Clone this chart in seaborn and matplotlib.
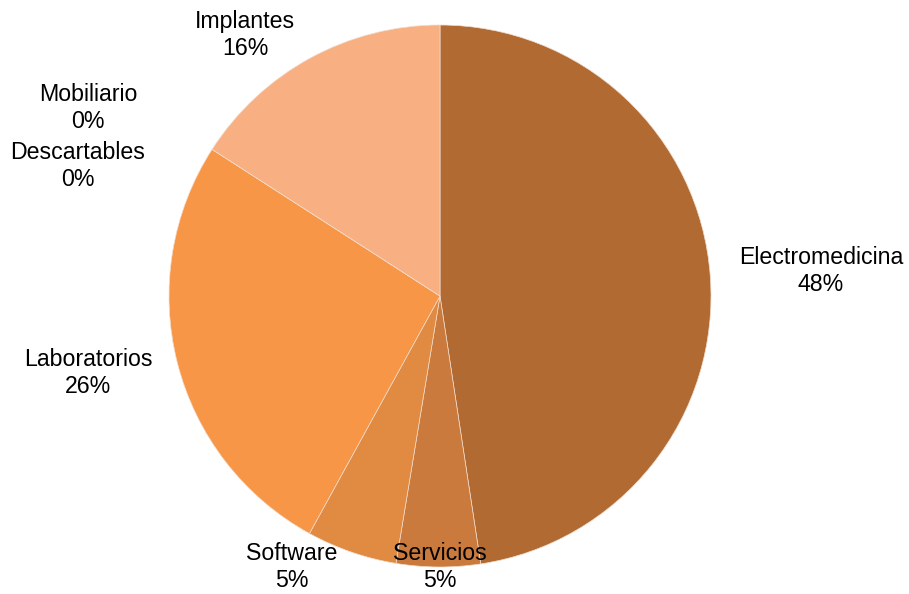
import matplotlib
matplotlib.use("Agg")
import matplotlib.pyplot as plt
import seaborn as sns

sns.set_style("white")
plt.rcParams["font.family"] = ["Liberation Sans", "DejaVu Sans"]

# Share of purchases by category (percent), clockwise from 12 o'clock
categories = ["Electromedicina", "Servicios", "Software", "Laboratorios",
              "Descartables", "Mobiliario", "Implantes"]
shares = [47.6, 5.0, 5.4, 26.1, 0.0, 0.0, 15.9]
colors = ["#B06A32", "#C97A3C", "#E08A42", "#F79646",
          "#F79646", "#F8AF82", "#F8AF82"]

# label anchor positions (pixels, from the top-left corner)
label_px = {
    "Electromedicina": (821, 271),
    "Servicios": (440, 567),
    "Software": (292, 567),
    "Laboratorios": (88, 373),
    "Descartables": (78, 166),
    "Mobiliario": (88, 108),
    "Implantes": (245, 35),
}

W, H = 909, 594
fig = plt.figure(figsize=(W / 100, H / 100), dpi=100)
cx, cy, r = 440, 296, 271
ax = fig.add_axes([(cx - r) / W, (H - cy - r) / H, 2 * r / W, 2 * r / H])

ax.pie(shares, colors=colors, startangle=90, counterclock=False,
       wedgeprops=dict(edgecolor="#F3DCCB", linewidth=0.5))
ax.set_xlim(-1, 1)
ax.set_ylim(-1, 1)
ax.set_aspect("equal")
ax.axis("off")

for name, val in zip(categories, shares):
    x, y = label_px[name]
    fig.text(x / W, 1 - y / H, f"{name}\n{round(val):.0f}%",
             ha="center", va="center", fontsize=16.7, linespacing=1.27,
             color="black", zorder=5)

fig.savefig("out.png", dpi=100, facecolor="white")
